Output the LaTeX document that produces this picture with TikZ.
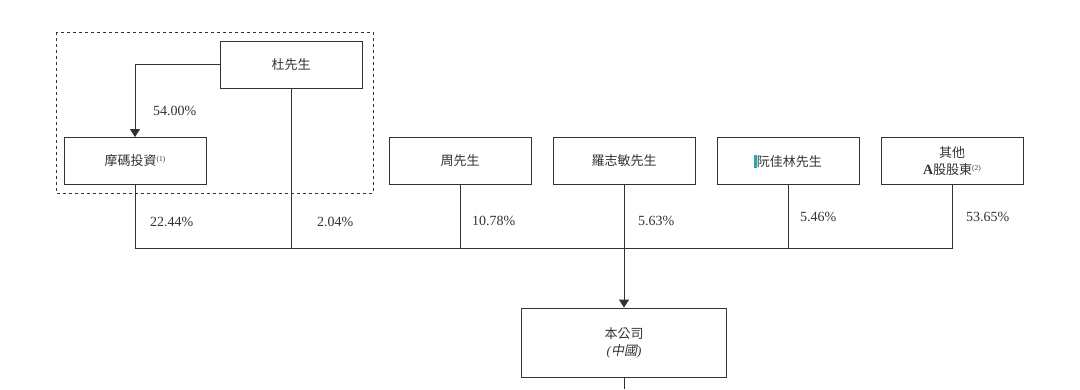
\documentclass[tikz,border=0pt]{standalone}
\usepackage{fontspec}
\setmainfont{Liberation Serif}
\newfontfamily\cjk{Noto Sans CJK TC}
\newfontfamily\cjkit[FakeSlant=0.2]{Noto Sans CJK TC}
\usetikzlibrary{arrows.meta}
\definecolor{ink}{HTML}{333333}
\definecolor{mark}{HTML}{2AA5B5}
\tikzset{
  box/.style={draw=ink, line width=0.9pt, minimum width=142pt, minimum height=47pt, inner sep=0pt, align=center, text=ink, font=\fontsize{13}{17}\selectfont\cjk},
  conn/.style={draw=ink, line width=0.9pt},
  arr/.style={conn, -{Triangle[width=10pt,length=8pt]}},
  pct/.style={anchor=west, text=ink, inner sep=0pt, font=\fontsize{14}{16}\selectfont}
}
\begin{document}
\begin{tikzpicture}[x=1pt,y=-1pt]
\useasboundingbox (0,0) rectangle (1080,389);
\draw[ink, line width=0.8pt, dashed] (56,32) rectangle (373,193);
\node[box] (du) at (291,64.5) {杜先生};
\node[box] (mo) at (135,161) {摩碼投資\raisebox{0.6ex}{\fontsize{7.5}{8}\selectfont\rmfamily(1)}};
\node[box] (zhou) at (460,161) {周先生};
\node[box] (luo) at (624,161) {羅志敏先生};
\node[box] (ruan) at (788,161) {\textcolor{mark}{\rule[-1.5pt]{2.5pt}{13pt}}阮佳林先生};
\node[box] (other) at (952,161) {其他\\{\rmfamily\bfseries\fontsize{14}{17}\selectfont A}股股東\raisebox{0.6ex}{\fontsize{7.5}{8}\selectfont\rmfamily(2)}};
\node[box, minimum width=205pt, minimum height=69pt] (co) at (624,342.5) {本公司\\{\rmfamily\itshape (}{\cjkit 中國}{\rmfamily\itshape )}};
\coordinate (busL) at (135,248);
\coordinate (busR) at (952,248);
\coordinate (bottom) at (624,389);
\draw[arr] (du.west) -| (mo.north);
\draw[conn] (mo.south) -- (busL) -- (busR) -- (other.south);
\draw[conn] (du.south) -- (du.south |- busL);
\draw[conn] (zhou.south) -- (zhou.south |- busL);
\draw[conn] (ruan.south) -- (ruan.south |- busL);
\draw[conn] (luo.south) -- (luo.south |- busL);
\draw[arr] (luo.south |- busL) -- (co.north);
\draw[conn] (co.south) -- (bottom);
\node[pct] (p1) at (153,111) {54.00\%};
\node[pct] (p2) at (150,222) {22.44\%};
\node[pct] (p3) at (317,222) {2.04\%};
\node[pct] (p4) at (472,221) {10.78\%};
\node[pct] (p5) at (638,221) {5.63\%};
\node[pct] (p6) at (800,217) {5.46\%};
\node[pct] (p7) at (966,217) {53.65\%};
\end{tikzpicture}
\end{document}
